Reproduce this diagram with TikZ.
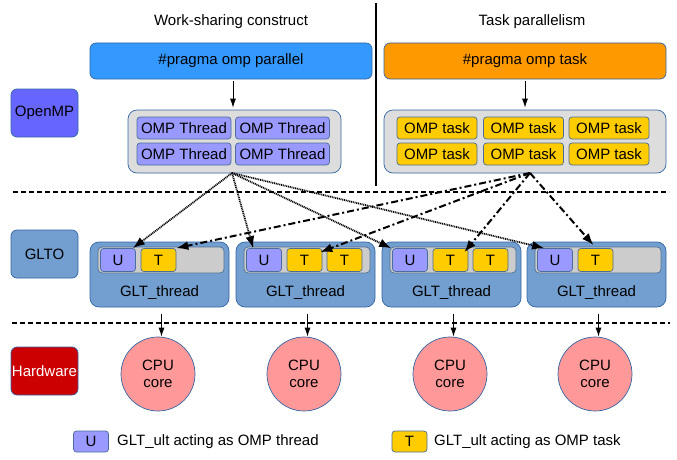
\documentclass[tikz,border=0pt]{standalone}
\usepackage{fontspec}
\setmainfont{Liberation Sans}
\usetikzlibrary{arrows.meta,calc}
\definecolor{pblue}{HTML}{3399FF}
\definecolor{porange}{HTML}{FF9900}
\definecolor{ompc}{HTML}{6666FF}
\definecolor{thrc}{HTML}{9999FF}
\definecolor{tskc}{HTML}{FFCC00}
\definecolor{gltc}{HTML}{729FCF}
\definecolor{grayc}{HTML}{DDDDDD}
\definecolor{stripc}{HTML}{CCCCCC}
\definecolor{cpuc}{HTML}{FF9999}
\definecolor{hwc}{HTML}{CC0000}
\definecolor{bord}{HTML}{3465A4}
\begin{document}
\begin{tikzpicture}[x=1pt,y=-1pt,
  font=\fontsize{15}{17}\selectfont,
  bx/.style={rectangle, rounded corners=6pt, draw=bord, line width=0.7pt, inner sep=0pt},
  smallbx/.style={rectangle, rounded corners=3pt, draw=bord!70!gray, line width=0.7pt, inner sep=0pt},
  thr/.style={smallbx, fill=thrc, minimum width=94pt, minimum height=22pt},
  tsk/.style={smallbx, fill=tskc, minimum width=80pt, minimum height=22pt},
  ubox/.style={smallbx, fill=thrc, minimum width=35pt, minimum height=23pt},
  tbox/.style={smallbx, fill=tskc, minimum width=35pt, minimum height=23pt},
  glt/.style={bx, rounded corners=9pt, fill=gltc, minimum width=139pt, minimum height=65pt},
  stripbx/.style={bx, rounded corners=4pt, draw=bord!60!gray, fill=stripc, minimum width=126pt, minimum height=26pt},
  cpu/.style={circle, draw=bord, line width=0.7pt, fill=cpuc, minimum size=74pt, inner sep=0pt, align=center},
  sep/.style={line width=2pt, dash pattern=on 5pt off 3pt},
  sarrow/.style={line width=0.9pt, -{Latex[length=9pt,width=6pt]}},
  dotarrow/.style={line width=1.8pt, dash pattern=on 1pt off 0.8pt, -{Latex[length=12pt,width=9pt]}},
  dasharrow/.style={line width=2pt, dash pattern=on 7pt off 3pt on 2pt off 3pt, -{Latex[length=12pt,width=9pt]}}
]
\useasboundingbox (0,0) rectangle (677,460);

% titles
\node (ws) at (231,22) {Work-sharing construct};
\node (tp) at (532,22) {Task parallelism};
\draw[line width=2pt] (376,3) -- (376,186);

% separators
\draw[sep] (13,192) -- (669,192);
\draw[sep] (12,323) -- (670,323);

% layer labels
\node[bx, fill=ompc, minimum width=67pt, minimum height=48pt] (openmp) at (44.5,113) {OpenMP};
\node[bx, fill=gltc, minimum width=67pt, minimum height=48pt] (glto) at (44.5,254) {GLTO};
\node[bx, fill=hwc, minimum width=67pt, minimum height=48pt, text=white] (hw) at (44.5,371) {Hardware};

% pragmas
\node[bx, fill=pblue, minimum width=282pt, minimum height=36pt] (par) at (231,61) {\#pragma omp parallel};
\node[bx, fill=porange, minimum width=282pt, minimum height=36pt] (tskp) at (525,61) {\#pragma omp task};

% containers
\node[bx, rounded corners=9pt, fill=grayc, minimum width=213pt, minimum height=63pt] (thc) at (234.5,141.5) {};
\node[bx, rounded corners=9pt, fill=grayc, minimum width=282pt, minimum height=63pt] (tkc) at (525,141.5) {};

\node[thr] (th1) at (184,128) {OMP Thread};
\node[thr] (th2) at (282.5,128) {OMP Thread};
\node[thr] (th3) at (184,154) {OMP Thread};
\node[thr] (th4) at (282.5,154) {OMP Thread};

\node[tsk] (tk1) at (437,128) {OMP task};
\node[tsk] (tk2) at (523.5,128) {OMP task};
\node[tsk] (tk3) at (609,128) {OMP task};
\node[tsk] (tk4) at (437,154) {OMP task};
\node[tsk] (tk5) at (523.5,154) {OMP task};
\node[tsk] (tk6) at (609,154) {OMP task};

\draw[sarrow] ($(par.south)+(2,2)$) -- ($(thc.north)+(-1.5,-2)$);
\draw[sarrow] ($(tskp.south)+(0,2)$) -- ($(tkc.north)+(0,-2)$);

% GLT threads
\foreach \i/\x in {1/90,2/236,3/382,4/527}{
  \node[glt] (g\i) at (\x+69.5,274.5) {};
  \node[stripbx] (s\i) at (\x+71,260) {};
  \node (gl\i) at (\x+69.5,292.5) {GLT\_thread};
  \node[ubox] (u\i) at (\x+28,260) {U};
  \node[cpu] (c\i) at (\x+68,374) {CPU\\core};
}
\node[tbox] (t1) at (90+68.5,260) {T};
\node[tbox] (t2a) at (236+68.5,260) {T};
\node[tbox] (t2b) at (236+108.5,260) {T};
\node[tbox] (t3a) at (382+68.5,260) {T};
\node[tbox] (t3b) at (382+108.5,260) {T};
\node[tbox] (t4) at (527+68.5,260) {T};

\foreach \i in {1,2,3,4}{
  \draw[sarrow] ($(g\i.south)+(2,7)$) -- ($(c\i.north)+(3.5,0)$);
}

% connectors
\coordinate (dsrc) at (232,173);
\coordinate (tsrc) at (530,173);
\draw[dotarrow] (dsrc) -- ($(u1.north east)+(-3,0)$);
\draw[dotarrow] (dsrc) -- ($(u2.north west)+(7,0)$);
\draw[dotarrow] (dsrc) -- ($(u3.north west)+(-1,0)$);
\draw[dotarrow] (dsrc) -- ($(u4.north west)+(7,0)$);
\draw[dasharrow] (tsrc) -- (t1.north east);
\draw[dasharrow] (tsrc) -- ($(t2a.north east)+(-2,4)$);
\draw[dasharrow] (tsrc) -- ($(t3a.north east)+(-4,4)$);
\draw[dasharrow] (tsrc) -- ($(t4.north)+(-2,-3)$);

% legend
\node[ubox, minimum height=21pt] (lu) at (91,441.5) {U};
\node[anchor=west, inner sep=1pt] (lut) at (116,442) {GLT\_ult acting as OMP thread};
\node[tbox, minimum height=21pt] (lt) at (409.5,441.5) {T};
\node[anchor=west, inner sep=1pt] (ltt) at (433,442) {GLT\_ult acting as OMP task};
\end{tikzpicture}
\end{document}
